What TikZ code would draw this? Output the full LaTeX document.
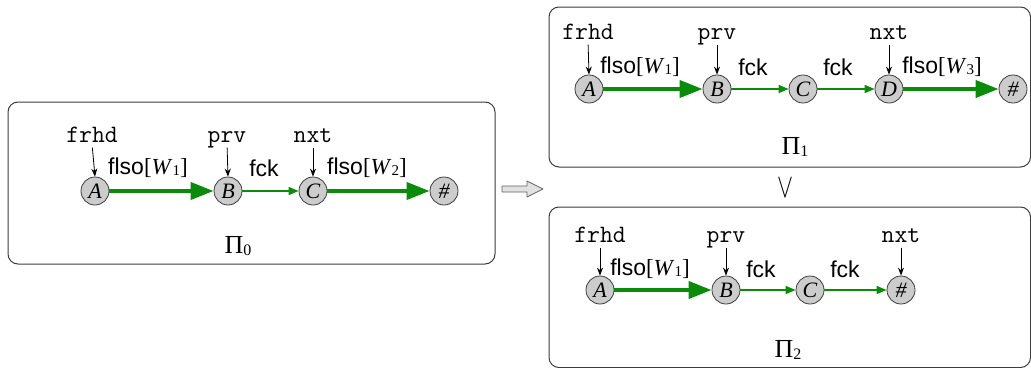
\documentclass[tikz,border=0pt]{standalone}
\usepackage{fontspec}
\setmainfont{Liberation Sans}
\newfontfamily\tms{Liberation Serif}
\usetikzlibrary{arrows.meta}
\definecolor{flow}{RGB}{10,140,10}
\definecolor{cellfill}{RGB}{204,204,204}
\definecolor{frame}{RGB}{60,60,60}
\definecolor{implfill}{RGB}{225,225,225}
% weighted segment label: [W_k]
\newcommand\Wsub[1]{{\tms[\textit{W}\raisebox{-0.1ex}{\fontsize{15}{15}\selectfont #1}]}}
% heap caption: Pi_k
\newcommand\Pisub[1]{{\tms Π\raisebox{-0.1ex}{\fontsize{16}{16}\selectfont #1}}}
\tikzset{
  cell/.style={circle, draw=frame, fill=cellfill, line width=0.8pt, minimum size=28pt,
    inner sep=0pt, font=\tms\itshape\fontsize{22}{22}\selectfont},
  ptr/.style={font=\ttfamily\fontsize{25}{25}\selectfont, inner sep=1pt, text height=11pt, text depth=0pt},
  ptrarrow/.style={-{Stealth[length=8pt,width=6pt]}, line width=0.8pt, shorten <=4pt},
  heavyflow/.style={draw=flow, line width=4pt, -{Triangle[length=23pt,width=17pt]}},
  lightflow/.style={draw=flow, line width=1.5pt, -{Triangle[length=10pt,width=8pt]}},
  elab/.style={font=\fontsize{23}{23}\selectfont, inner sep=0pt},
  panel/.style={draw=frame, line width=1pt, rounded corners=10pt},
  caption/.style={font=\tms\fontsize{26}{26}\selectfont, inner sep=0pt},
}
\begin{document}
\begin{tikzpicture}[x=1pt,y=-1pt]
\useasboundingbox (0,0) rectangle (1031,367);

% ---------- initial heap ----------
\draw[panel] (8,102) rectangle (495,264);
\node[cell] (a0) at (95,191) {A};
\node[cell] (b0) at (228,191) {B};
\node[cell] (c0) at (313,191) {C};
\node[cell] (h0) at (444,191) {\#};
\node[ptr] (fr0) at (92,137) {frhd};
\node[ptr] (pv0) at (227,137) {prv};
\node[ptr] (nx0) at (313,137) {nxt};
\draw[ptrarrow] (fr0.south) -- (a0.north);
\draw[ptrarrow] (pv0.south) -- (b0.north);
\draw[ptrarrow] (nx0.south) -- (c0.north);
\draw[heavyflow] (a0.east) -- (b0.west);
\draw[lightflow] (b0.east) -- (c0.west);
\draw[heavyflow] (c0.east) -- (h0.west);
\node[elab] (l01) at (148,168) {flso\Wsub{1}};
\node[elab] (l02) at (264,168) {fck};
\node[elab] (l03) at (367,168) {flso\Wsub{2}};
\node[caption] (p0) at (238,246) {\Pisub{0}};

% ---------- implication ----------
\filldraw[draw=frame!80, fill=implfill, line width=0.8pt, line join=round]
  (502,186) -- (527,186) -- (527,181) -- (543,189) -- (527,197) -- (527,192) -- (502,192) -- cycle;

% ---------- first disjunct ----------
\draw[panel] (549,7) rectangle (1030.5,167);
\node[cell] (a1) at (589,89) {A};
\node[cell] (b1) at (717,89) {B};
\node[cell] (c1) at (803,89) {C};
\node[cell] (d1) at (889,89) {D};
\node[cell] (h1) at (1013,89) {\#};
\node[ptr] (fr1) at (588,34) {frhd};
\node[ptr] (pv1) at (717,34) {prv};
\node[ptr] (nx1) at (889,34) {nxt};
\draw[ptrarrow] (fr1.south) -- (a1.north);
\draw[ptrarrow] (pv1.south) -- (b1.north);
\draw[ptrarrow] (nx1.south) -- (d1.north);
\draw[heavyflow] (a1.east) -- (b1.west);
\draw[lightflow] (b1.east) -- (c1.west);
\draw[lightflow] (c1.east) -- (d1.west);
\draw[heavyflow] (d1.east) -- (h1.west);
\node[elab] (l11) at (640,67) {flso\Wsub{1}};
\node[elab] (l12) at (753,67) {fck};
\node[elab] (l13) at (838,67) {fck};
\node[elab] (l14) at (942,67) {flso\Wsub{3}};
\node[caption] (p1) at (795,147) {\Pisub{1}};

\node[inner sep=0pt] (or) at (785,188) {\resizebox{16pt}{19pt}{$\vee$}};

% ---------- second disjunct ----------
\draw[panel] (549,207) rectangle (1030.5,367.5);
\node[cell] (a2) at (600,290) {A};
\node[cell] (b2) at (726,290) {B};
\node[cell] (c2) at (810,290) {C};
\node[cell] (h2) at (901,290) {\#};
\node[ptr] (fr2) at (600,237) {frhd};
\node[ptr] (pv2) at (726,237) {prv};
\node[ptr] (nx2) at (901,237) {nxt};
\draw[ptrarrow] (fr2.south) -- (a2.north);
\draw[ptrarrow] (pv2.south) -- (b2.north);
\draw[ptrarrow] (nx2.south) -- (h2.north);
\draw[heavyflow] (a2.east) -- (b2.west);
\draw[lightflow] (b2.east) -- (c2.west);
\draw[lightflow] (c2.east) -- (h2.west);
\node[elab] (l21) at (650,269) {flso\Wsub{1}};
\node[elab] (l22) at (761,269) {fck};
\node[elab] (l23) at (845,269) {fck};
\node[caption] (p2) at (788,350) {\Pisub{2}};
\end{tikzpicture}
\end{document}
